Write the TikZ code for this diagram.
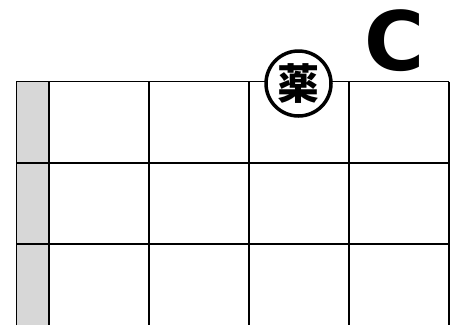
\documentclass[tikz,border=0pt]{standalone}
\usepackage{fontspec}
\usepackage{tikz}
\usetikzlibrary{calc}
\usetikzlibrary{positioning}
\newfontfamily\letterFont{DejaVu Sans}
\newfontfamily\kanjiFont{Noto Sans CJK JP}
\definecolor{ColGray}{RGB}{215,215,215}
\tikzset{
	thinLine/.style={line width=1pt},
	gridLine/.style={line width=2pt},
	kanjiMark/.style={circle, draw, fill=white, line width=3.5pt, minimum size=65pt, inner sep=0pt},
}

\begin{document}
\begin{tikzpicture}[x=1pt,y=-1pt]
	
		\useasboundingbox (0,0) rectangle (462,325);
		
		\fill [ColGray] (16,81.5) rectangle (49,325); %side
		\draw [thinLine] (16,325) -- (16,81.5) -- (448.5,81.5);
		
		\foreach \y in {163,244}
			\draw [gridLine] (16,\y) -- (448.5,\y);
		\foreach \x in {49,148.5,248.5,348.5,448.5}
			\draw [gridLine] (\x,81.5) -- (\x,325);
		
		\node [kanjiMark] (yaku) at (298.5,83.5) {\kanjiFont\bfseries\fontsize{42}{42}\selectfont 薬};
		\node (colC) at (395,41) {\letterFont\bfseries\fontsize{82}{82}\selectfont C};
	\end{tikzpicture}
\end{document}
